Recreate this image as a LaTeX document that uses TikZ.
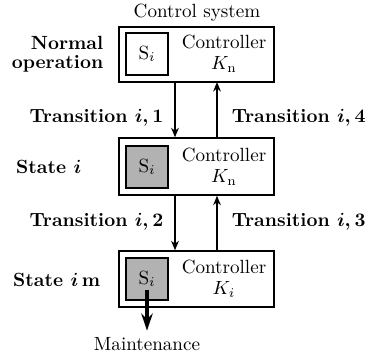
\documentclass[tikz,border=0pt]{standalone}
\usetikzlibrary{arrows.meta}
\begin{document}
\begin{tikzpicture}[x=0.0184cm,y=-0.0184cm,
  ctrlbox/.style={draw,line width=0.7pt,inner sep=0pt,minimum width=155*0.0184cm},
  sbox/.style={draw,inner sep=0pt,minimum width=42*0.0184cm,minimum height=42*0.0184cm},
  statelabel/.style={font=\bfseries\boldmath,align=right,anchor=east},
  translabel/.style={font=\bfseries\boldmath},
  flow/.style={line width=0.6pt,-{Stealth[length=5pt,width=4pt]}}]
\useasboundingbox (0,0) rectangle (367,359);

% three control-system blocks
\node[ctrlbox,minimum height=55*0.0184cm] (b1) at (196.5,54.5) {};
\node[ctrlbox,minimum height=57*0.0184cm] (b2) at (196.5,166.5) {};
\node[ctrlbox,minimum height=56*0.0184cm] (b3) at (196.5,279) {};

% subsystem boxes
\node[sbox,line width=0.6pt] (s1) at (147,54) {$\mathrm{S}_i$};
\node[sbox,line width=1pt,fill=black!30] (s2) at (147,167) {$\mathrm{S}_i$};
\node[sbox,line width=1.4pt,fill=black!30] (s3) at (147,279) {$\mathrm{S}_i$};

% controller texts
\node[align=center] (k1) at (224,54) {Controller\\[-1pt]$K_{\mathrm{n}}$};
\node[align=center] (k2) at (224,167) {Controller\\[-1pt]$K_{\mathrm{n}}$};
\node[align=center] (k3) at (224,279) {Controller\\[-1pt]$K_{i}$};

\node (cs) at (197,13) {Control system};

% state labels
\node[statelabel] (l1) at (110,54) {Normal\\[-2pt]operation};
\node[statelabel] (l2) at (88,167) {State $i$};
\node[statelabel] (l3) at (107,280) {State $i\,\mathrm{m}$};

% transitions
\coordinate (d1) at (175,82);
\coordinate (u1) at (217,82);
\draw[flow] (d1) -- (d1 |- b2.north);
\draw[flow] (u1 |- b2.north) -- (u1);
\draw[flow] (d1 |- b2.south) -- (d1 |- b3.north);
\draw[flow] (u1 |- b3.north) -- (u1 |- b2.south);

\node[translabel,anchor=east] (t1) at (170,118) {Transition $i,1$};
\node[translabel,anchor=west] (t4) at (225,118) {Transition $i,4$};
\node[translabel,anchor=east] (t2) at (170,222) {Transition $i,2$};
\node[translabel,anchor=west] (t3) at (225,222) {Transition $i,3$};

% maintenance exit
\node (mt) at (147,344) {Maintenance};
\coordinate (m0) at (147,290);
\draw[line width=1.6pt,-{Stealth[length=9pt,width=6pt]}] (m0) -- (mt.north);
\end{tikzpicture}
\end{document}
